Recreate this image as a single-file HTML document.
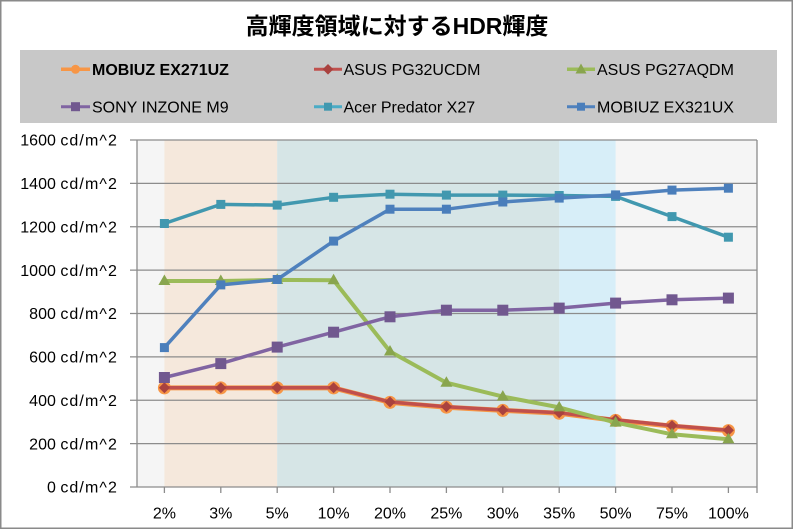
<!DOCTYPE html>
<html>
<head>
<meta charset="utf-8">
<style>
html,body{margin:0;padding:0;background:#fff;}
svg{display:block;}
text{font-family:"Liberation Sans","Noto Sans CJK JP",sans-serif;}
</style>
</head>
<body>
<svg width="794" height="530" viewBox="0 0 794 530" xmlns="http://www.w3.org/2000/svg">
<rect x="0" y="0" width="794" height="530" fill="#ffffff"/>
<rect x="0.75" y="0.75" width="791.5" height="527.5" fill="none" stroke="#8a8a8a" stroke-width="1.5"/>

<!-- Title -->
<text x="397" y="34" text-anchor="middle" font-size="23" font-weight="bold" fill="#000">高輝度領域に対するHDR輝度</text>

<!-- Legend -->
<rect x="20" y="50" width="757" height="73" fill="#c8c8c8"/>
<g font-size="16" fill="#000">
  <line x1="61" y1="69.3" x2="90" y2="69.3" stroke="#f79646" stroke-width="3.5"/>
  <circle cx="75.5" cy="69.3" r="4.5" fill="#f79646"/>
  <text x="92" y="75" font-weight="bold">MOBIUZ EX271UZ</text>

  <line x1="314" y1="69.3" x2="342" y2="69.3" stroke="#c0504d" stroke-width="3"/>
  <polygon points="328,64 333.3,69.3 328,74.6 322.7,69.3" fill="#a9423f"/>
  <text x="343.5" y="75">ASUS PG32UCDM</text>

  <line x1="567" y1="69.3" x2="595" y2="69.3" stroke="#9bbb59" stroke-width="3.5"/>
  <polygon points="581,63.5 586.5,73.5 575.5,73.5" fill="#89a54e"/>
  <text x="597" y="75">ASUS PG27AQDM</text>

  <line x1="61" y1="106.7" x2="90" y2="106.7" stroke="#8064a2" stroke-width="3"/>
  <rect x="71" y="102.2" width="9" height="9" fill="#71588f"/>
  <text x="92" y="112.4">SONY INZONE M9</text>

  <line x1="314" y1="106.7" x2="342" y2="106.7" stroke="#4bacc6" stroke-width="3"/>
  <rect x="324" y="102.7" width="8" height="8" fill="#4198af"/>
  <text x="343.5" y="112.4">Acer Predator X27</text>

  <line x1="567" y1="106.7" x2="595" y2="106.7" stroke="#4f81bd" stroke-width="3"/>
  <rect x="577" y="102.7" width="8" height="8" fill="#4a7ebb"/>
  <text x="597" y="112.4">MOBIUZ EX321UX</text>
</g>

<!-- Plot backgrounds -->
<rect x="137" y="140" width="620" height="347" fill="#f5f5f5"/>
<rect x="164.4" y="140" width="112.8" height="347" fill="#f5e8dc"/>
<rect x="277.2" y="140" width="282" height="347" fill="#d6e5e6"/>
<rect x="559.2" y="140" width="56.4" height="347" fill="#d7eef8"/>

<!-- Gridlines -->
<g stroke="#8c8c8c" stroke-width="1.3">
  <line x1="130" y1="140" x2="757" y2="140"/>
  <line x1="130" y1="183.4" x2="757" y2="183.4"/>
  <line x1="130" y1="226.75" x2="757" y2="226.75"/>
  <line x1="130" y1="270.1" x2="757" y2="270.1"/>
  <line x1="130" y1="313.5" x2="757" y2="313.5"/>
  <line x1="130" y1="356.9" x2="757" y2="356.9"/>
  <line x1="130" y1="400.25" x2="757" y2="400.25"/>
  <line x1="130" y1="443.6" x2="757" y2="443.6"/>
  <line x1="130" y1="487" x2="757.5" y2="487"/>
  <line x1="137" y1="140" x2="137" y2="487"/>
  <line x1="757" y1="140" x2="757" y2="493"/>
  <line x1="164.4" y1="487" x2="164.4" y2="493"/>
  <line x1="220.8" y1="487" x2="220.8" y2="493"/>
  <line x1="277.2" y1="487" x2="277.2" y2="493"/>
  <line x1="333.6" y1="487" x2="333.6" y2="493"/>
  <line x1="390" y1="487" x2="390" y2="493"/>
  <line x1="446.4" y1="487" x2="446.4" y2="493"/>
  <line x1="502.8" y1="487" x2="502.8" y2="493"/>
  <line x1="559.2" y1="487" x2="559.2" y2="493"/>
  <line x1="615.6" y1="487" x2="615.6" y2="493"/>
  <line x1="672" y1="487" x2="672" y2="493"/>
  <line x1="728.4" y1="487" x2="728.4" y2="493"/>
</g>

<!-- Y labels -->
<g font-size="16" fill="#000" text-anchor="end">
  <text x="118" y="145.7">1600 <tspan letter-spacing="1.1">cd/m^2</tspan></text>
  <text x="118" y="189.1">1400 <tspan letter-spacing="1.1">cd/m^2</tspan></text>
  <text x="118" y="232.5">1200 <tspan letter-spacing="1.1">cd/m^2</tspan></text>
  <text x="118" y="275.8">1000 <tspan letter-spacing="1.1">cd/m^2</tspan></text>
  <text x="118" y="319.2">800 <tspan letter-spacing="1.1">cd/m^2</tspan></text>
  <text x="118" y="362.6">600 <tspan letter-spacing="1.1">cd/m^2</tspan></text>
  <text x="118" y="406">400 <tspan letter-spacing="1.1">cd/m^2</tspan></text>
  <text x="118" y="449.3">200 <tspan letter-spacing="1.1">cd/m^2</tspan></text>
  <text x="118" y="492.7">0 <tspan letter-spacing="1.1">cd/m^2</tspan></text>
</g>

<!-- X labels -->
<g font-size="16" fill="#000" text-anchor="middle">
  <text x="164.4" y="518.5">2%</text>
  <text x="220.8" y="518.5">3%</text>
  <text x="277.2" y="518.5">5%</text>
  <text x="333.6" y="518.5">10%</text>
  <text x="390" y="518.5">20%</text>
  <text x="446.4" y="518.5">25%</text>
  <text x="502.8" y="518.5">30%</text>
  <text x="559.2" y="518.5">35%</text>
  <text x="615.6" y="518.5">50%</text>
  <text x="672" y="518.5">75%</text>
  <text x="728.4" y="518.5">100%</text>
</g>

<!-- Series: MOBIUZ EX271UZ (orange) -->
<polyline fill="none" stroke="#f79646" stroke-width="5" stroke-linejoin="round"
  points="164.4,387.9 220.8,387.9 277.2,387.9 333.6,387.9 390,402.4 446.4,407.2 502.8,410.4 559.2,413.3 615.6,420.4 672,426.1 728.4,430.6"/>
<g fill="#f79646">
  <circle cx="164.4" cy="387.9" r="6.5"/><circle cx="220.8" cy="387.9" r="6.5"/><circle cx="277.2" cy="387.9" r="6.5"/>
  <circle cx="333.6" cy="387.9" r="6.5"/><circle cx="390" cy="402.4" r="6.5"/><circle cx="446.4" cy="407.2" r="6.5"/>
  <circle cx="502.8" cy="410.4" r="6.5"/><circle cx="559.2" cy="413.3" r="6.5"/><circle cx="615.6" cy="420.4" r="6.5"/>
  <circle cx="672" cy="426.1" r="6.5"/><circle cx="728.4" cy="430.6" r="6.5"/>
</g>

<!-- Series: ASUS PG32UCDM (red) -->
<polyline fill="none" stroke="#c0504d" stroke-width="3.5" stroke-linejoin="round"
  points="164.4,387.7 220.8,387.7 277.2,387.7 333.6,387.7 390,402 446.4,406.8 502.8,410 559.2,412.8 615.6,419.8 672,425.6 728.4,430.2"/>
<g fill="#a9423f">
  <polygon points="164.4,382.2 169.9,387.7 164.4,393.2 158.9,387.7"/>
  <polygon points="220.8,382.2 226.3,387.7 220.8,393.2 215.3,387.7"/>
  <polygon points="277.2,382.2 282.7,387.7 277.2,393.2 271.7,387.7"/>
  <polygon points="333.6,382.2 339.1,387.7 333.6,393.2 328.1,387.7"/>
  <polygon points="390,396.5 395.5,402 390,407.5 384.5,402"/>
  <polygon points="446.4,401.3 451.9,406.8 446.4,412.3 440.9,406.8"/>
  <polygon points="502.8,404.5 508.3,410 502.8,415.5 497.3,410"/>
  <polygon points="559.2,407.3 564.7,412.8 559.2,418.3 553.7,412.8"/>
  <polygon points="615.6,414.3 621.1,419.8 615.6,425.3 610.1,419.8"/>
  <polygon points="672,420.1 677.5,425.6 672,431.1 666.5,425.6"/>
  <polygon points="728.4,424.7 733.9,430.2 728.4,435.7 722.9,430.2"/>
</g>

<!-- Series: ASUS PG27AQDM (green) -->
<polyline fill="none" stroke="#9bbb59" stroke-width="4" stroke-linejoin="round"
  points="164.4,281 220.8,281 277.2,279.9 333.6,280.3 390,351.5 446.4,382.7 502.8,396.6 559.2,407.4 615.6,422.6 672,434.3 728.4,439.3"/>
<g fill="#89a54e">
  <polygon points="164.4,274.5 170.4,285 158.4,285"/>
  <polygon points="220.8,274.5 226.8,285 214.8,285"/>
  <polygon points="277.2,273.4 283.2,283.9 271.2,283.9"/>
  <polygon points="333.6,273.8 339.6,284.3 327.6,284.3"/>
  <polygon points="390,345 396,355.5 384,355.5"/>
  <polygon points="446.4,376.2 452.4,386.7 440.4,386.7"/>
  <polygon points="502.8,390.1 508.8,400.6 496.8,400.6"/>
  <polygon points="559.2,400.9 565.2,411.4 553.2,411.4"/>
  <polygon points="615.6,416.1 621.6,426.6 609.6,426.6"/>
  <polygon points="672,427.8 678,438.3 666,438.3"/>
  <polygon points="728.4,432.8 734.4,443.3 722.4,443.3"/>
</g>

<!-- Series: SONY INZONE M9 (purple) -->
<polyline fill="none" stroke="#8064a2" stroke-width="3.5" stroke-linejoin="round"
  points="164.4,377.5 220.8,363.6 277.2,347.1 333.6,332.2 390,316.8 446.4,310.2 502.8,310.2 559.2,308.1 615.6,303.1 672,299.8 728.4,298.1"/>
<g fill="#71588f">
  <rect x="158.9" y="372" width="11" height="11"/><rect x="215.3" y="358.1" width="11" height="11"/>
  <rect x="271.7" y="341.6" width="11" height="11"/><rect x="328.1" y="326.7" width="11" height="11"/>
  <rect x="384.5" y="311.3" width="11" height="11"/><rect x="440.9" y="304.7" width="11" height="11"/>
  <rect x="497.3" y="304.7" width="11" height="11"/><rect x="553.7" y="302.6" width="11" height="11"/>
  <rect x="610.1" y="297.6" width="11" height="11"/><rect x="666.5" y="294.3" width="11" height="11"/>
  <rect x="722.9" y="292.6" width="11" height="11"/>
</g>

<!-- Series: Acer Predator X27 (teal) -->
<polyline fill="none" stroke="#4198af" stroke-width="3.5" stroke-linejoin="round"
  points="164.4,223.5 220.8,204.4 277.2,205.1 333.6,197.3 390,194.2 446.4,195.1 502.8,195.1 559.2,195.5 615.6,196.4 672,216.6 728.4,237.2"/>
<g fill="#4198af">
  <rect x="159.9" y="219" width="9" height="9"/><rect x="216.3" y="199.9" width="9" height="9"/>
  <rect x="272.7" y="200.6" width="9" height="9"/><rect x="329.1" y="192.8" width="9" height="9"/>
  <rect x="385.5" y="189.7" width="9" height="9"/><rect x="441.9" y="190.6" width="9" height="9"/>
  <rect x="498.3" y="190.6" width="9" height="9"/><rect x="554.7" y="191" width="9" height="9"/>
  <rect x="611.1" y="191.9" width="9" height="9"/><rect x="667.5" y="212.1" width="9" height="9"/>
  <rect x="723.9" y="232.7" width="9" height="9"/>
</g>

<!-- Series: MOBIUZ EX321UX (blue) -->
<polyline fill="none" stroke="#4f81bd" stroke-width="3.5" stroke-linejoin="round"
  points="164.4,347.6 220.8,284.9 277.2,279.5 333.6,241.1 390,209.2 446.4,209.2 502.8,202 559.2,198.1 615.6,194.9 672,190.1 728.4,188.2"/>
<g fill="#4a7ebb">
  <rect x="159.9" y="343.1" width="9" height="9"/><rect x="216.3" y="280.4" width="9" height="9"/>
  <rect x="272.7" y="275" width="9" height="9"/><rect x="329.1" y="236.6" width="9" height="9"/>
  <rect x="385.5" y="204.7" width="9" height="9"/><rect x="441.9" y="204.7" width="9" height="9"/>
  <rect x="498.3" y="197.5" width="9" height="9"/><rect x="554.7" y="193.6" width="9" height="9"/>
  <rect x="611.1" y="190.4" width="9" height="9"/><rect x="667.5" y="185.6" width="9" height="9"/>
  <rect x="723.9" y="183.7" width="9" height="9"/>
</g>
</svg>
</body>
</html>
